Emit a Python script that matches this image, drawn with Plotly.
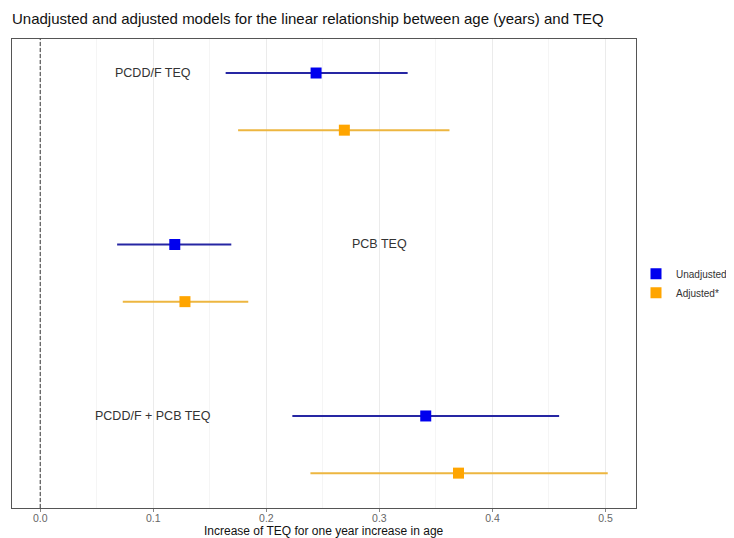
import plotly.graph_objects as go

# Data
groups = ["PCDD/F TEQ", "PCB TEQ", "PCDD/F + PCB TEQ"]
unadj_est = [0.244, 0.119, 0.341]
unadj_low = [0.164, 0.068, 0.223]
unadj_high = [0.325, 0.169, 0.459]
adj_est = [0.269, 0.128, 0.370]
adj_low = [0.175, 0.073, 0.239]
adj_high = [0.362, 0.184, 0.502]
unadj_y = [8, 5, 2]
adj_y = [7, 4, 1]
label_x = [0.10, 0.30, 0.10]
ref_line = 0.0
x_ticks = [0.0, 0.1, 0.2, 0.3, 0.4, 0.5]
x_title = "Increase of TEQ for one year increase in age"

font = "Liberation Sans, Arial, sans-serif"

# page body has an 8px margin; figure is sized to fit the window
W, H = 726, 530

fig = go.Figure()

def add_series(name, est, low, high, ys, mcol, lcol):
    fig.add_trace(go.Scatter(
        x=est, y=ys, mode="markers", name=name,
        marker=dict(symbol="square", size=11, color=mcol),
        error_x=dict(type="data", symmetric=False,
                     array=[h - e for h, e in zip(high, est)],
                     arrayminus=[e - l for e, l in zip(est, low)],
                     color=lcol, thickness=2, width=0),
    ))

add_series("Unadjusted", unadj_est, unadj_low, unadj_high, unadj_y, "#0000EE", "#2626A3")
add_series("Adjusted*", adj_est, adj_low, adj_high, adj_y, "#FFA500", "#EDB640")

for g, lx, ly in zip(groups, label_x, unadj_y):
    fig.add_annotation(x=lx, y=ly, text=g, showarrow=False,
                       font=dict(size=12.5, color="#333333", family=font),
                       xanchor="center", yanchor="middle")

fig.add_annotation(x=0.5, xref="paper", y=-0.049, yref="paper", text=x_title,
                   showarrow=False, xanchor="center", yanchor="middle",
                   font=dict(size=12, color="#111111", family=font))

fig.add_shape(type="line", x0=ref_line, x1=ref_line, xref="x", y0=0, y1=1, yref="paper",
              line=dict(color="#555555", width=1.2, dash="4px,2px"))

fig.update_layout(
    width=W, height=H,
    margin=dict(l=4, r=98, t=31, b=30, autoexpand=False),
    paper_bgcolor="white", plot_bgcolor="white",
    font=dict(family=font, color="#333333"),
    title=dict(text="Unadjusted and adjusted models for the linear relationship between age (years) and TEQ",
               x=4/W, xref="container", xanchor="left",
               y=1 - 11/H, yref="container", yanchor="middle",
               font=dict(size=15, color="#111111", family=font)),
    legend=dict(x=1.0, y=0.479, xanchor="left", yanchor="middle",
                font=dict(size=10, color="#333333", family=font),
                bgcolor="rgba(0,0,0,0)", itemwidth=30, tracegroupgap=2),
    showlegend=True,
)

fig.update_xaxes(
    range=[-0.025, 0.527], tickvals=x_ticks, ticktext=[f"{v:.1f}" for v in x_ticks],
    showgrid=True, gridcolor="#EBEBEB", gridwidth=1,
    minor=dict(dtick=0.05, tick0=0.05, showgrid=True, gridcolor="#F5F5F5", gridwidth=0.6),
    ticks="outside", ticklen=3, tickcolor="#888888", ticklabelstandoff=-3,
    tickfont=dict(size=10.5, color="#666666", family=font),
    showline=True, linecolor="#555555", linewidth=1, mirror=True, zeroline=False,
    automargin=False,
)
fig.update_yaxes(
    range=[0.39, 8.595], showticklabels=False, showgrid=False, zeroline=False,
    ticks="", showline=True, linecolor="#555555", linewidth=1, mirror=True,
)

fig.write_html("out.html")
